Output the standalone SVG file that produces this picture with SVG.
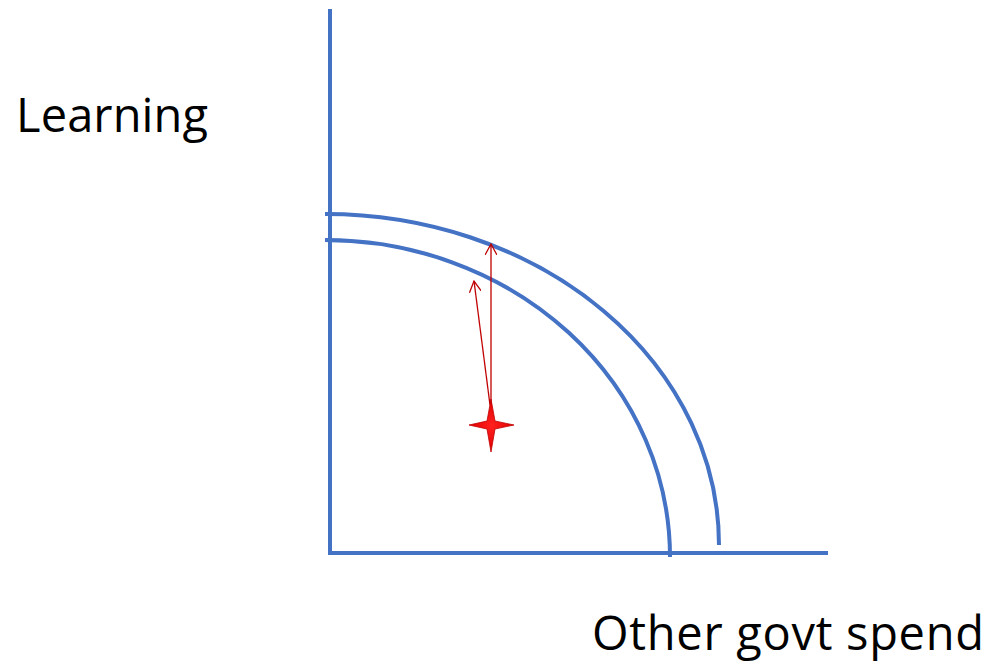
<svg xmlns="http://www.w3.org/2000/svg" width="989" height="664" viewBox="0 0 989 664">
<defs>
<style>
.axis{stroke:#4472C4;stroke-width:4;fill:none}
.curve{stroke:#4472C4;stroke-width:4;fill:none}
.arrow{stroke:#C00000;stroke-width:1.3;fill:none}
.lbl{font-family:"Open Sans","Liberation Sans",sans-serif;font-size:47px;fill:#000}
</style>
<marker id="oa" viewBox="0 0 12 12" refX="11" refY="6" markerWidth="12" markerHeight="12" markerUnits="userSpaceOnUse" orient="auto">
<path d="M0,0 L11,6 L0,12" fill="none" stroke="#C00000" stroke-width="1.3"/>
</marker>
<radialGradient id="sg" cx="0.5" cy="0.5" r="0.5">
<stop offset="0" stop-color="#FF2020"/>
<stop offset="1" stop-color="#E00000"/>
</radialGradient>
</defs>
<g id="axes">
<line class="axis" x1="330" y1="9" x2="330" y2="553"/>
<line class="axis" x1="328" y1="553" x2="828" y2="553"/>
</g>
<g id="outer-curve">
<path class="curve" d="M325,214 A394,331 0 0 1 719,545"/>
</g>
<g id="inner-curve">
<path class="curve" d="M325,240 A345,317 0 0 1 670,557"/>
</g>
<g id="connectors">
<line class="arrow" x1="491" y1="418" x2="491" y2="244" marker-end="url(#oa)"/>
<line class="arrow" x1="490" y1="405" x2="474" y2="281" marker-end="url(#oa)"/>
</g>
<g id="star">
<path d="M491,399 L495,421 L514,425 L495,429 L491,452 L487,429 L469,425 L487,421 Z" fill="url(#sg)" stroke="#C00000" stroke-width="0.8"/>
</g>
<g id="label-y">
<text class="lbl" x="16" y="132" textLength="192">Learning</text>
</g>
<g id="label-x">
<text class="lbl" x="592" y="650" textLength="392">Other govt spend</text>
</g>
</svg>
